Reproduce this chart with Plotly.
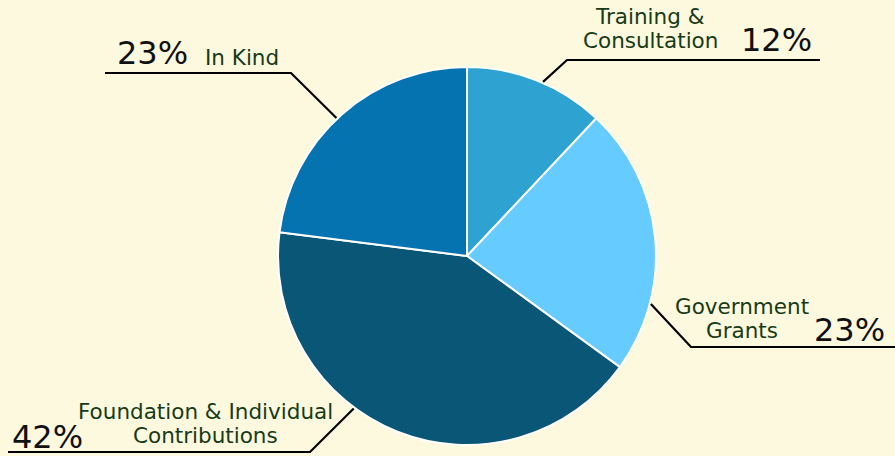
import math
import plotly.graph_objects as go

# ---- data ----
categories = ["Training & Consultation", "Government Grants",
              "Foundation & Individual Contributions", "In Kind"]
label_lines = [["Training &", "Consultation"], ["Government", "Grants"],
               ["Foundation & Individual", "Contributions"], ["In Kind"]]
values = [12, 23, 42, 23]
colors = ["#2EA2D1", "#66CCFF", "#0A5677", "#0573B0"]

# ---- layout constants (pixels) ----
W, H = 895, 456
CX, CY, R = 467, 256, 189
BG = "#FDF9DE"
FONT = "Verdana, DejaVu Sans, sans-serif"
LABEL_COLOR = "#173B17"
LABEL_SIZE = 21.5
PCT_SIZE = 32
LINE_GAP = 24

# leader line angle offsets from slice mid-angle (deg), elbow point, end x
leader_offset = [2, 20, 15, -2]
elbow = [(567, 60), (691, 347), (310, 452), (291, 73)]
end_x = [820, 895, 8, 105]
label_pos = [(650, 28), (742, 318), (205, 423), (242, 57)]
pct_pos = [(776, 40), (849, 330), (47, 437), (152, 53)]


def px(x):
    return x / W


def py(y):
    return 1 - y / H


fig = go.Figure(go.Pie(
    labels=categories, values=values, sort=False, direction="clockwise",
    rotation=0, textinfo="none", hoverinfo="label+percent",
    marker=dict(colors=colors, line=dict(color="white", width=2)),
    domain=dict(x=[px(CX - R), px(CX + R)], y=[py(CY + R), py(CY - R)]),
    showlegend=False,
))

total = sum(values)
shapes, annotations = [], []
cum = 0
for i, v in enumerate(values):
    mid = (cum + v / 2) / total * 360
    cum += v
    a = math.radians(mid + leader_offset[i])
    sx = CX + (R + 1) * math.sin(a)
    sy = CY - (R + 1) * math.cos(a)
    ex, ey = elbow[i]
    path = f"M {px(sx)},{py(sy)} L {px(ex)},{py(ey)} L {px(end_x[i])},{py(ey)}"
    shapes.append(dict(type="path", xref="paper", yref="paper", path=path,
                       line=dict(color="black", width=2.2)))
    lx, ly = label_pos[i]
    n = len(label_lines[i])
    for j, line in enumerate(label_lines[i]):
        yy = ly + (j - (n - 1) / 2) * LINE_GAP
        annotations.append(dict(x=px(lx), y=py(yy), xref="paper", yref="paper",
                                text=line, showarrow=False,
                                xanchor="center", yanchor="middle",
                                font=dict(family=FONT, size=LABEL_SIZE,
                                          color=LABEL_COLOR)))
    qx, qy = pct_pos[i]
    annotations.append(dict(x=px(qx), y=py(qy), xref="paper", yref="paper",
                            text=f"{v / total * 100:.0f}%", showarrow=False,
                            xanchor="center", yanchor="middle",
                            font=dict(family=FONT, size=PCT_SIZE, color="#111111")))

fig.update_layout(
    width=W, height=H, margin=dict(l=0, r=0, t=0, b=0),
    paper_bgcolor=BG, plot_bgcolor=BG,
    shapes=shapes, annotations=annotations,
)

fig.write_html("out.html",
               config={"displayModeBar": False},
               post_script="document.body.style.margin='0';"
                           "document.body.style.overflow='hidden';"
                           f"document.body.style.background='{BG}';")
